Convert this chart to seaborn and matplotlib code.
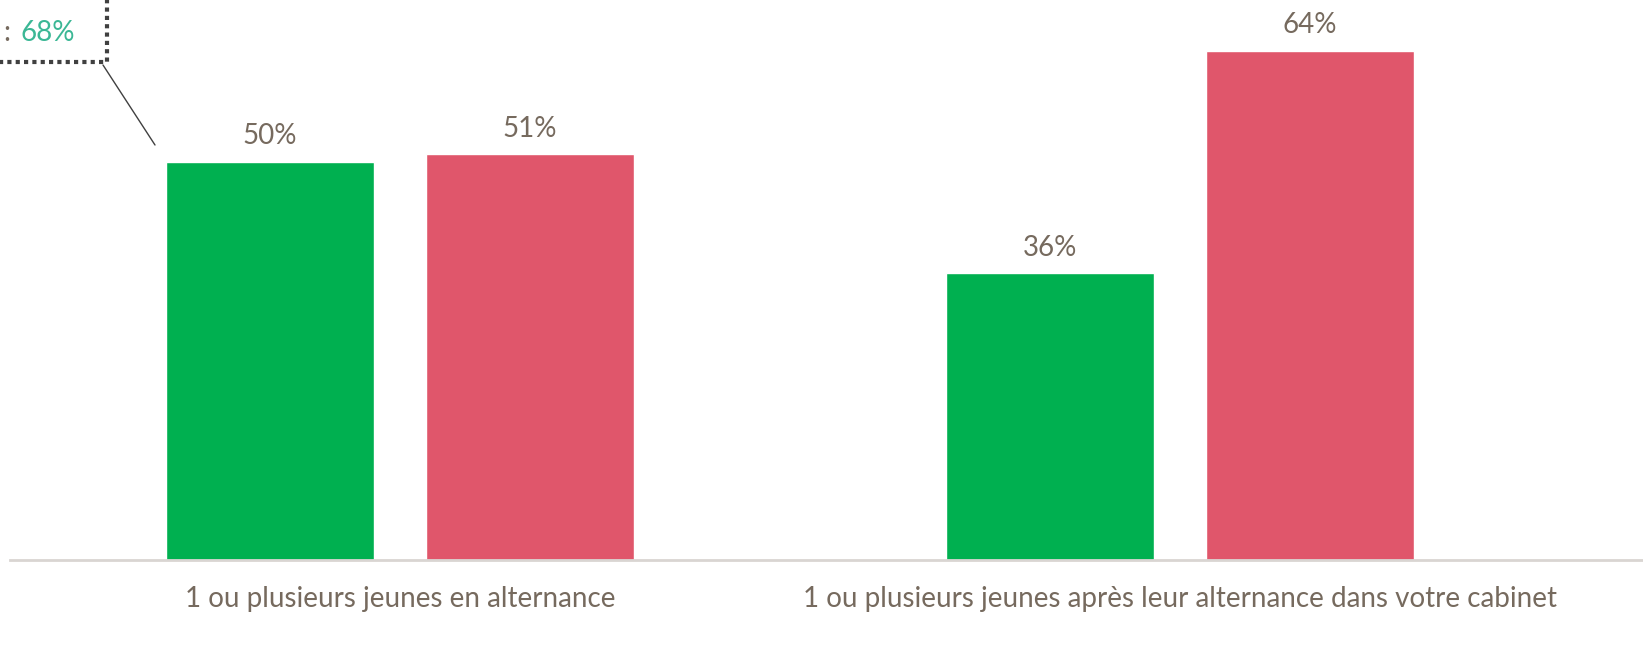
import pandas as pd
import seaborn as sns
import matplotlib.pyplot as plt
from matplotlib.patches import Rectangle
from matplotlib.lines import Line2D

categories = ["1 ou plusieurs jeunes en alternance",
              "1 ou plusieurs jeunes après leur alternance dans votre cabinet"]
series = ["Série 1", "Série 2"]
values_s1 = [50, 36]
values_s2 = [51, 64]
callout_value = "68%"

colors = ["#00B050", "#E0566B"]
text_color = "#766A5E"

rows = []
for cat, a, b in zip(categories, values_s1, values_s2):
    rows.append([cat, series[0], a])
    rows.append([cat, series[1], b])
df = pd.DataFrame(rows, columns=["categorie", "serie", "valeur"])

sns.set_theme(style="white")
plt.rcParams['font.family'] = ['Lato', 'DejaVu Sans']

W, H = 1643, 645
fig = plt.figure(figsize=(W / 100, H / 100), dpi=100)
ax = fig.add_axes([10 / W, (H - 560) / H, 1 - 10 / W, 560 / H])

sns.barplot(data=df, x="categorie", y="valeur", hue="serie", palette=colors,
            saturation=1, width=0.667, gap=0.2, ax=ax, legend=False)

for cont in ax.containers:
    ax.bar_label(cont, fmt="%d%%", padding=9, fontsize=20, color=text_color)

ax.set_xlim(-0.5, (W - 400) / 780)
ax.set_ylim(0, 560 / 7.96)
ax.set_xlabel("")
ax.set_ylabel("")
ax.set_yticks([])
ax.tick_params(axis="x", length=0, pad=19, labelsize=20, labelcolor=text_color)
for s in ["top", "right", "left"]:
    ax.spines[s].set_visible(False)
ax.spines["bottom"].set_color("#D9D5D2")
ax.spines["bottom"].set_linewidth(2)
ax.patch.set_alpha(0)

# encadré en pointillés (coupé par le bord de l'image)
fig.patches.append(Rectangle((-200 / W, (H - 62) / H), 307 / W, 100 / H,
                             transform=fig.transFigure, fill=False,
                             edgecolor="#404040", linewidth=3, linestyle=(0, (1, 1))))
fig.text(3 / W, (H - 33) / H, ":", color=text_color, fontsize=20, va="center")
fig.text(20 / W, (H - 33) / H, callout_value, color="#3BB795", fontsize=20, va="center")
fig.lines.append(Line2D([103 / W, 155 / W], [(H - 65) / H, (H - 145) / H],
                        transform=fig.transFigure, color="#404040", linewidth=1))

fig.savefig("out.png", dpi=100)
